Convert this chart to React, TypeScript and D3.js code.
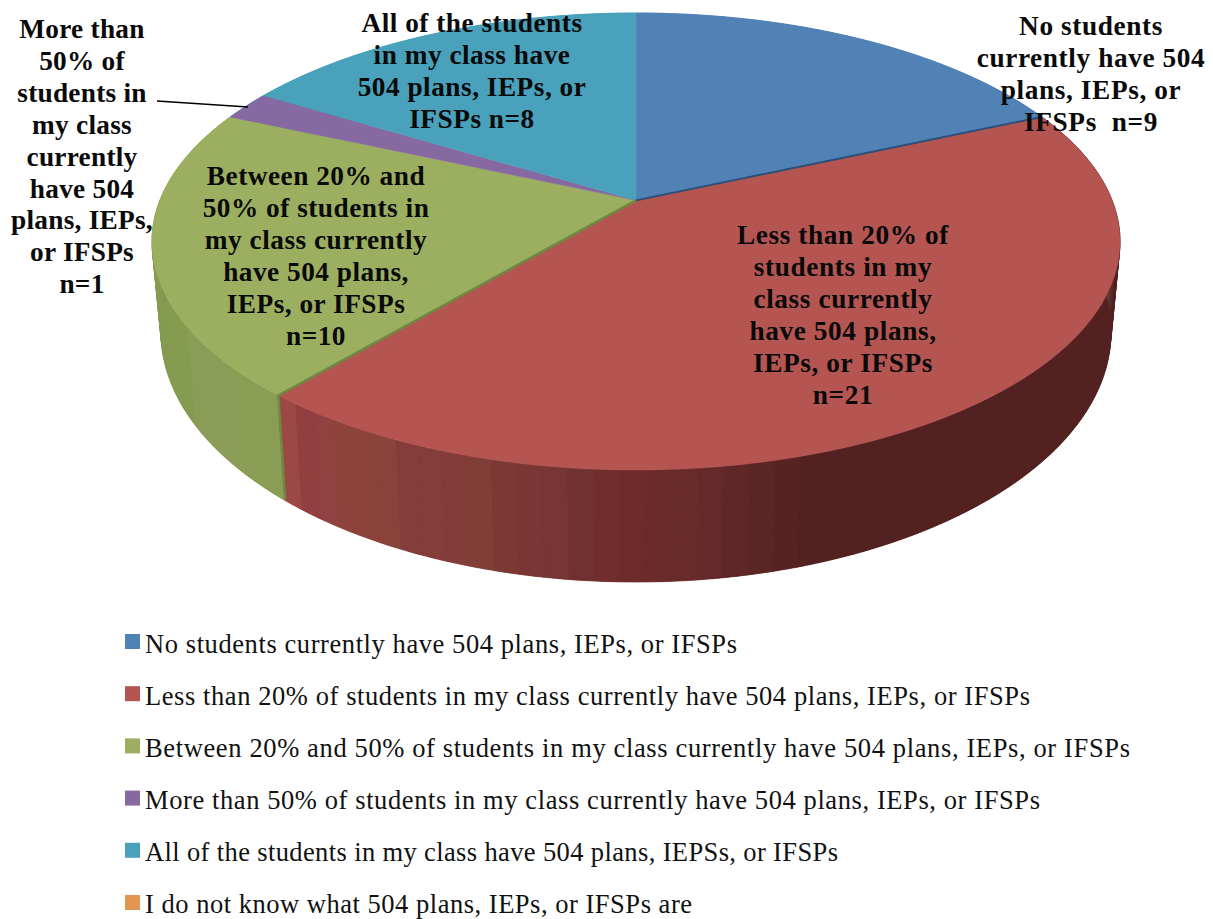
import React from "react";
import * as d3 from "d3";

const categories = [
  "No students currently have 504 plans, IEPs, or IFSPs",
  "Less than 20% of students in my class currently have 504 plans, IEPs, or IFSPs",
  "Between 20% and 50% of students in my class currently have 504 plans, IEPs, or IFSPs",
  "More than 50% of students in my class currently have 504 plans, IEPs, or IFSPs",
  "All of the students in my class have 504 plans, IEPSs, or IFSPs",
  "I do not know what 504 plans, IEPs, or IFSPs are",
];
const counts = [9, 21, 10, 1, 8, 0];
const colors = ["#5082B5", "#B45552", "#9CAF60", "#8569A0", "#49A1BB", "#E2964F"];
const labelLines = [
  ["No students", "currently have 504", "plans, IEPs, or", "IFSPs  n=9"],
  ["Less than 20% of", "students in my", "class currently", "have 504 plans,", "IEPs, or IFSPs", "n=21"],
  ["Between 20% and", "50% of students in", "my class currently", "have 504 plans,", "IEPs, or IFSPs", "n=10"],
  ["More than", "50% of", "students in", "my class", "currently", "have 504", "plans, IEPs,", "or IFSPs", "n=1"],
  ["All of the students", "in my class have", "504 plans, IEPs, or", "IFSPs n=8"],
];
const redSideShades = ["#9C4845", "#933F3F", "#914240", "#8D433B", "#8B433B", "#88433B", "#853D3B", "#843D39", "#823D39", "#813E37", "#7C3835", "#7A3635", "#773534", "#723131", "#6F2D2C", "#6D2C2B", "#6B2B2B", "#682B2A", "#642928", "#5F2726", "#5B2524", "#572322"];
const redSideDark = "#522120";
const greenSideShades = ["#8A9D55", "#8B9C58", "#859C50", "#849A50", "#869A52", "#82964E", "#8A9E58", "#8FA45C"];

const W = 1213, H = 919;
const labelX = [1091, 843, 316, 82, 472];
const labelY = [35, 244, 185, 38, 32];
const labelSpacing = [0.6, 0.6, 0.5, 0.25, 0.5];
const legendWidths = [592, 885, 985, 895, 693, 547];
const FONT = "'Liberation Serif', serif";

const topE = { cx: 636, cy: 241.5, rx: 484, ry: 228.5 };
const lowE = { cx: 636, cy: 332, rx: 475, ry: 250 };
const a = 0.18;

function project(theta: number, e: typeof topE): [number, number] {
  const x = Math.sin(theta), y = Math.cos(theta);
  const d = 1 + a * y;
  return [e.cx + e.rx * (x * Math.sqrt(1 - a * a)) / d, e.cy - e.ry * (y + a) / d];
}

const pieGen = d3.pie<number>().sort(null);
const arcs = pieGen(counts);
const center: [number, number] = [topE.cx, topE.cy - topE.ry * a];
const line = d3.line();

function samples(start: number, end: number, e: typeof topE) {
  const n = Math.max(2, Math.ceil((end - start) / 0.01));
  return d3.range(n + 1).map((i) => project(start + ((end - start) * i) / n, e));
}

function wedge(start: number, end: number) {
  return line([center, ...samples(start, end, topE), center]) + "Z";
}

// quads fill the tangent between the two rims; the ribbon on top gives a clean face
function quads(start: number, end: number) {
  const up = samples(start, end, topE), low = samples(start, end, lowE);
  return d3.range(up.length - 1)
    .map((i) => line([up[i], up[i + 1], low[i + 1], low[i]]) + "Z")
    .join("");
}

function ribbon(start: number, end: number) {
  return line([...samples(start, end, topE), ...samples(start, end, lowE).reverse()]) + "Z";
}

function sideBands() {
  const out: { d: string; fill: string }[] = [];
  const add = (s: number, e: number, fill: string) => {
    out.push({ d: quads(s, e), fill });
    out.push({ d: ribbon(s, e), fill });
  };
  const red = arcs[1], green = arcs[2];
  const redSpan = (57 * Math.PI) / 180;
  const redBoundary = red.endAngle - redSpan;
  add(arcs[0].startAngle, arcs[0].endAngle, colors[0]);
  add(arcs[3].startAngle, arcs[4].endAngle, colors[4]);
  add(red.startAngle, redBoundary, redSideDark);
  const redStep = redSpan / redSideShades.length;
  redSideShades.forEach((c, i) => add(red.endAngle - (i + 1) * redStep, red.endAngle - i * redStep, c));
  const greenStep = (green.endAngle - green.startAngle) / greenSideShades.length;
  greenSideShades.forEach((c, i) => add(green.startAngle + i * greenStep, green.startAngle + (i + 1) * greenStep, c));
  return out;
}

export default function App() {
  const bands = sideBands();
  const blueRed = project(arcs[0].endAngle, topE);
  const redGreenTop = project(arcs[1].endAngle, topE);
  const redGreenLow = project(arcs[1].endAngle, lowE);
  return (
    <svg
      width={W}
      height={H}
      viewBox={`0 0 ${W} ${H}`}
      style={{ position: "absolute", left: 0, top: 0, background: "#fff" }}
      fontFamily={FONT}
    >
      <g>
        {bands.map((s, i) => (
          <path key={i} d={s.d} fill={s.fill} stroke={s.fill} strokeWidth={0.4} />
        ))}
      </g>
      <g>
        {arcs.map((arc, i) =>
          arc.endAngle > arc.startAngle ? (
            <path key={i} d={wedge(arc.startAngle, arc.endAngle)} fill={colors[i]} stroke={colors[i]} strokeWidth={0.5} />
          ) : null
        )}
      </g>
      <path d={line([center, blueRed]) ?? ""} stroke="#2C4F78" strokeWidth={2} fill="none" />
      <path d={line([center, redGreenTop, redGreenLow]) ?? ""} stroke="#6E8A40" strokeWidth={2.5} fill="none" />
      <path d="M157 101 L248 107" stroke="#000" strokeWidth={1.6} fill="none" />
      <g fontWeight="bold" fontSize={27.3} fill="#0a0a0a" textAnchor="middle">
        {labelLines.map((lines, i) =>
          lines.map((t, j) => (
            <text key={`${i}-${j}`} x={labelX[i]} y={labelY[i] + j * 31.9} letterSpacing={labelSpacing[i]} xmlSpace="preserve">
              {t}
            </text>
          ))
        )}
      </g>
      <g fontSize={26.5} fill="#111">
        {categories.map((c, i) => (
          <g key={c}>
            <rect x={125} y={634 + i * 52.2} width={15} height={15} fill={colors[i]} />
            <text x={145} y={653 + i * 52} textLength={legendWidths[i]} lengthAdjust="spacing">{c}</text>
          </g>
        ))}
      </g>
    </svg>
  );
}
